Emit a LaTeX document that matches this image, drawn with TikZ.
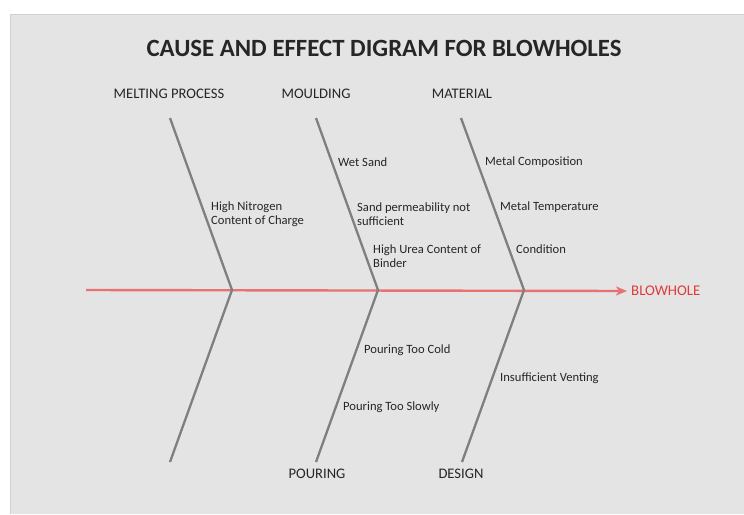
\documentclass[tikz,border=0pt]{standalone}
\usepackage{fontspec}
\setmainfont{Carlito}
\usetikzlibrary{arrows.meta}
\definecolor{bg}{HTML}{E4E4E4}
\definecolor{bgedge}{HTML}{D0D0D0}
\definecolor{bone}{HTML}{7F7F7F}
\definecolor{spine}{HTML}{E87272}
\definecolor{effect}{HTML}{E03A3A}
\definecolor{ink}{HTML}{262626}
\tikzset{
  bonestyle/.style={draw=bone, line width=2.3pt},
  spinestyle/.style={draw=spine, line width=2.4pt},
  cause/.style={font=\fontsize{12.6}{14.5}\selectfont, text=ink, anchor=west, inner sep=0pt, align=left},
  header/.style={font=\fontsize{14.6}{16}\selectfont, text=ink, inner sep=0pt},
}
\begin{document}
\begin{tikzpicture}[x=1pt, y=-1pt]
\useasboundingbox (0,0) rectangle (744,514);
\fill[white] (0,0) rectangle (744,514);
\fill[bg] (10,14) rectangle (744,514);
\draw[bgedge, line width=1.2pt] (10.5,514) -- (10.5,14.5) -- (744,14.5);

\node[font=\fontsize{24.8}{28}\selectfont\bfseries, text=ink, inner sep=0pt] (title) at (384,48) {CAUSE AND EFFECT DIGRAM FOR BLOWHOLES};

% headers
\node[header] (hmelt) at (169,94) {MELTING PROCESS};
\node[header] (hmould) at (316,94) {MOULDING};
\node[header] (hmat) at (462,94) {MATERIAL};
\node[header] (hpour) at (317,474) {POURING};
\node[header] (hdes) at (461,474) {DESIGN};

% bone coordinates
\coordinate (mt) at (170,118);
\coordinate (mj) at (232,290);
\coordinate (mb) at (170,462);
\coordinate (ot) at (316,118);
\coordinate (oj) at (378,290);
\coordinate (ob) at (316,462);
\coordinate (at) at (461,118);
\coordinate (aj) at (524,290);
\coordinate (ab) at (462,462);
\coordinate (sp) at (86,290);

% effect
\node[font=\fontsize{14.8}{16}\selectfont, text=effect, anchor=west, inner sep=0pt] (blow) at (631,291) {BLOWHOLE};

% spine
\draw[spinestyle, -{Stealth[length=11pt, width=9pt, inset=3pt]}] (sp) -- ([xshift=-4pt]blow.west);

% bones
\draw[bonestyle, line join=miter] (mt) -- (mj) -- (mb);
\draw[bonestyle, line join=miter] (ot) -- (oj) -- (ob);
\draw[bonestyle, line join=miter] (at) -- (aj) -- (ab);

% causes
\node[cause] (c1) at (211,214) {High Nitrogen\\Content of Charge};
\node[cause] (c2) at (338,162) {Wet Sand};
\node[cause] (c3) at (357,214) {Sand permeability not\\sufficient};
\node[cause] (c4) at (373,256) {High Urea Content of\\Binder};
\node[cause] (c5) at (485,162) {Metal Composition};
\node[cause] (c6) at (500,207) {Metal Temperature};
\node[cause] (c7) at (516,249) {Condition};
\node[cause] (c8) at (364,350) {Pouring Too Cold};
\node[cause] (c9) at (343,407) {Pouring Too Slowly};
\node[cause] (c10) at (500,378) {Insufficient Venting};
\end{tikzpicture}
\end{document}
